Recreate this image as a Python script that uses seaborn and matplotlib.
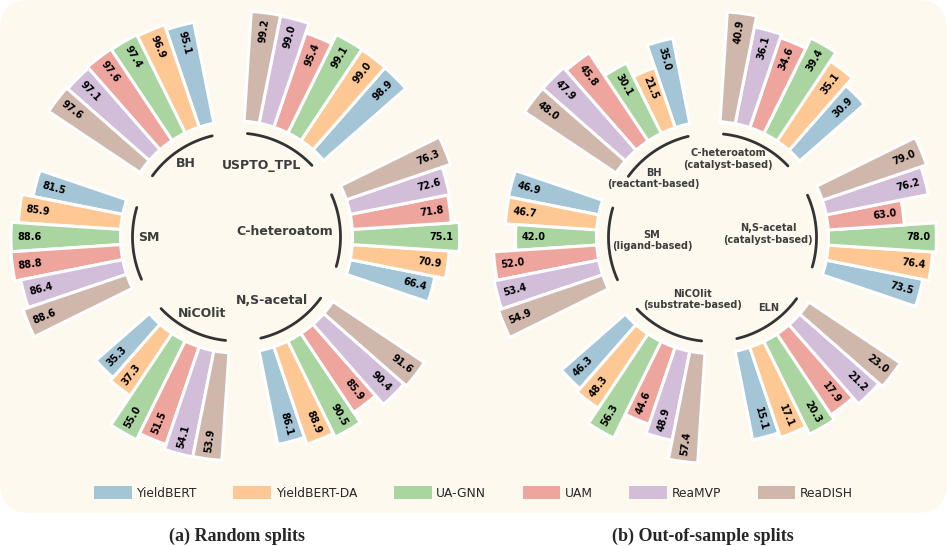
import numpy as np
import matplotlib.pyplot as plt
import seaborn as sns
from matplotlib.patches import FancyBboxPatch, Patch
from matplotlib.colors import to_rgba

models = ['YieldBERT', 'YieldBERT-DA', 'UA-GNN', 'UAM', 'ReaMVP', 'ReaDISH']

# (a) Random splits - groups listed counterclockwise, starting on the right
groups_a = ['C-heteroatom', 'USPTO_TPL', 'BH', 'SM', 'NiCOlit', 'N,S-acetal']
c_het_a = [66.4, 70.9, 75.1, 71.8, 72.6, 76.3]
uspto_a = [98.9, 99.0, 99.1, 95.4, 99.0, 99.2]
bh_a = [95.1, 96.9, 97.4, 97.6, 97.1, 97.6]
sm_a = [81.5, 85.9, 88.6, 88.8, 86.4, 88.6]
nicolit_a = [35.3, 37.3, 55.0, 51.5, 54.1, 53.9]
ns_acetal_a = [86.1, 88.9, 90.5, 85.9, 90.4, 91.6]
vals_a = [c_het_a, uspto_a, bh_a, sm_a, nicolit_a, ns_acetal_a]

# (b) Out-of-sample splits
groups_b = ['N,S-acetal\n(catalyst-based)', 'C-heteroatom\n(catalyst-based)',
            'BH\n(reactant-based)', 'SM\n(ligand-based)',
            'NiCOlit\n(substrate-based)', 'ELN']
ns_acetal_b = [73.5, 76.4, 78.0, 63.0, 76.2, 79.0]
c_het_b = [30.9, 35.1, 39.4, 34.6, 36.1, 40.9]
bh_b = [35.0, 21.5, 30.1, 45.8, 47.9, 48.0]
sm_b = [46.9, 46.7, 42.0, 52.0, 53.4, 54.9]
nicolit_b = [46.3, 48.3, 56.3, 44.6, 48.9, 57.4]
eln_b = [15.1, 17.1, 20.3, 17.9, 21.2, 23.0]
vals_b = [ns_acetal_b, c_het_b, bh_b, sm_b, nicolit_b, eln_b]

# layout (radius in pixel-like units, angles in degrees)
SLOT = 7.5        # 48 slots round the circle: 6 bars + 2 empty per group
BASE = 116        # where the bars start
LMAX = 110        # length of the longest bar of a group
ARC_R = 104
OFFSET = 36       # per-group scale: bar length ~ (v - min + OFFSET)
lab_a = [(7, 49), (70.5, 76), (124.7, 89), (180.6, 88), (245.6, 83.5), (299, 73)]
lab_b = [(3.6, 55.6), (78.8, 80), (135, 83), (183, 60.6), (252, 65.6), (308.7, 90)]

sns.set_theme(style='white')
plt.rcParams['font.family'] = ['DejaVu Sans']
colors = sns.color_palette('tab10', 6)

fig = plt.figure(figsize=(9.47, 5.46), dpi=100)
fig.patch.set_facecolor('white')
panel = FancyBboxPatch((0, 0.33), 9.47, 5.13, boxstyle='round,pad=0,rounding_size=0.3',
                       transform=fig.dpi_scale_trans, fc='#FEF9EE', ec='none', zorder=-5)
fig.patches.append(panel)


def draw_wheel(ax, groups, vals, labpos, lab_fs):
    for g, (name, v) in enumerate(zip(groups, vals)):
        v = np.array(v)
        frac = (v - v.min() + OFFSET) / (v.max() - v.min() + OFFSET)
        thetas = (-2 + 8 * g + np.arange(6)) * SLOT
        ax.bar(np.deg2rad(thetas), LMAX * frac, width=np.deg2rad(SLOT), bottom=BASE,
               color=[to_rgba(c, 0.4) for c in colors], edgecolor='white', linewidth=2.2)
        for t, f, val in zip(thetas, frac, v):
            tt = (t + 180) % 360 - 180
            if -90 <= tt <= 90:
                rot, ha = tt, 'right'
            else:
                rot, ha = tt - 180, 'left'
            ax.text(np.deg2rad(t), BASE + LMAX * f - 6, f'{val:.1f}', rotation=rot,
                    rotation_mode='anchor', ha=ha, va='center', fontsize=7,
                    fontweight='bold', color='black')
        arc = np.deg2rad(np.linspace(thetas[0] - 1.5, thetas[-1] + 1.5, 60))
        ax.plot(arc, np.full_like(arc, ARC_R), color='#333333', lw=2)
        lt, lr = labpos[g]
        ax.text(np.deg2rad(lt), lr, name, ha='center', va='center', fontsize=lab_fs,
                fontweight='bold', color='#3d3d3d', linespacing=1.15)
    ax.set_ylim(0, 240)
    ax.axis('off')


W, H = 947, 546
ax1 = fig.add_axes([(236.5 - 240) / W, (H - 237 - 240) / H, 480 / W, 480 / H], projection='polar')
ax2 = fig.add_axes([(712.5 - 240) / W, (H - 237.5 - 240) / H, 480 / W, 480 / H], projection='polar')
ax1.set_zorder(2)
ax2.set_zorder(2)
draw_wheel(ax1, groups_a, vals_a, lab_a, 9)
draw_wheel(ax2, groups_b, vals_b, lab_b, 7)

handles = [Patch(facecolor=to_rgba(c, 0.4), edgecolor='none', label=m) for c, m in zip(colors, models)]
fig.legend(handles=handles, loc='center', bbox_to_anchor=(0.5, 1 - 493 / H), ncol=6,
           frameon=False, fontsize=8.8, handlelength=3.1, handleheight=1.15,
           columnspacing=3.0, handletextpad=0.35)

fig.text(237 / W, 1 - 536 / H, '(a) Random splits', ha='center', va='center',
         fontsize=13, fontweight='bold', family='Liberation Serif')
fig.text(703 / W, 1 - 536 / H, '(b) Out-of-sample splits', ha='center', va='center',
         fontsize=13, fontweight='bold', family='Liberation Serif')

fig.savefig('out.png', dpi=100)
